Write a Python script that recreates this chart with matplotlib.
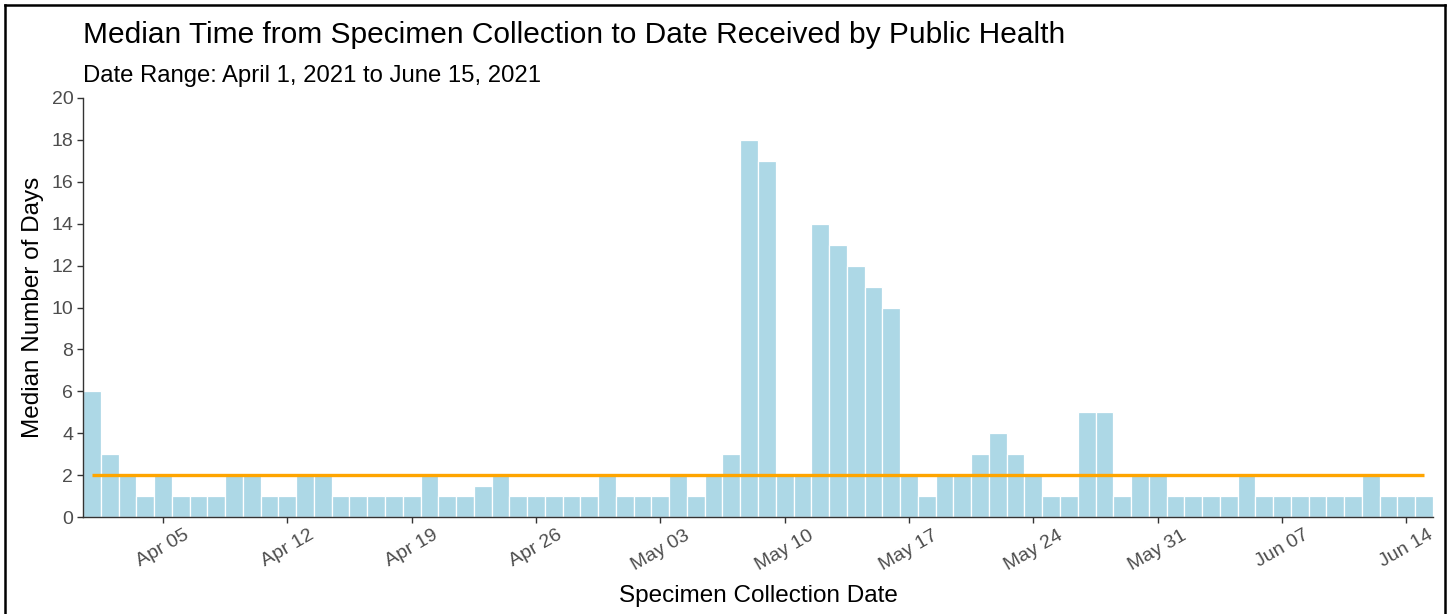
import matplotlib
matplotlib.use("Agg")
import matplotlib.pyplot as plt
import matplotlib.dates as mdates
import matplotlib.transforms as mtransforms
from matplotlib.lines import Line2D
import pandas as pd
import numpy as np

# ---------------- data ----------------
start_date = "2021-04-01"
end_date = "2021-06-15"
april_days = [6, 3, 2, 1, 2, 1, 1, 1, 2, 2, 1, 1, 2, 2, 1, 1, 1, 1, 1, 2,
              1, 1, 1.5, 2, 1, 1, 1, 1, 1, 2]
may_days = [1, 1, 1, 2, 1, 2, 3, 18, 17, 2, 2, 14, 13, 12, 11, 10, 2, 1, 2, 2,
            3, 4, 3, 2, 1, 1, 5, 5, 1, 2, 2]
june_days = [1, 1, 1, 1, 2, 1, 1, 1, 1, 1, 1, 2, 1, 1, 1]
reference_median = 2
y_ticks = [0, 2, 4, 6, 8, 10, 12, 14, 16, 18, 20]
title = "Median Time from Specimen Collection to Date Received by Public Health"
subtitle = "Date Range: April 1, 2021 to June 15, 2021"
x_label = "Specimen Collection Date"
y_label = "Median Number of Days"
first_tick = "2021-04-05"
last_tick = "2021-06-14"

dates = pd.date_range(start_date, end_date, freq="D")
values = april_days + may_days + june_days

# ---------------- figure ----------------
W, H, DPI = 1448, 614, 100
fig = plt.figure(figsize=(W / DPI, H / DPI), dpi=DPI)
plt.rcParams["font.family"] = ["Liberation Sans", "DejaVu Sans"]

def px(x0, y0, x1, y1):
    return [x0 / W, 1 - y1 / H, (x1 - x0) / W, (y1 - y0) / H]

ax = fig.add_axes(px(83, 98, 1433, 517))

xnum = mdates.date2num(dates)
ax.bar(xnum, values, width=1.0, color="#ADD8E6", edgecolor="white",
       linewidth=0.9, zorder=2)
ax.hlines(reference_median, xnum[0], xnum[-1], color="#FFA500", lw=2.4, zorder=3)

ax.set_xlim(xnum[0] - 0.5, xnum[-1] + 0.5)
ax.set_ylim(0, 20)
ax.set_yticks(y_ticks)

ticks = pd.date_range(first_tick, last_tick, freq="7D")
ax.set_xticks(mdates.date2num(ticks))
ax.set_xticklabels([t.strftime("%b %d") for t in ticks], rotation=30,
                   ha="center", va="top")
offset = mtransforms.ScaledTranslation(-5 / DPI, 0, fig.dpi_scale_trans)
for lab in ax.get_xticklabels():
    lab.set_transform(lab.get_transform() + offset)

for s in ["top", "right"]:
    ax.spines[s].set_visible(False)
for s in ["left", "bottom"]:
    ax.spines[s].set_color("#333333")
    ax.spines[s].set_linewidth(1.0)

ax.tick_params(axis="both", colors="#333333", length=4, width=1.0,
               labelcolor="#4D4D4D", labelsize=14)
ax.tick_params(axis="x", pad=3)
ax.tick_params(axis="y", pad=3)

ax.set_xlabel(x_label, fontsize=17.5, color="black", labelpad=8)
ax.set_ylabel(y_label, fontsize=17.5, color="black", labelpad=5)

fig.text(83 / W, 1 - 43 / H, title, fontsize=21.5, color="black", va="baseline", ha="left")
fig.text(83 / W, 1 - 82 / H, subtitle, fontsize=17.2, color="black", va="baseline", ha="left")

# outer frame (left, top, right)
lw = 1.8
fig.add_artist(Line2D([4.8 / W, 4.8 / W], [0, 1 - 5.3 / H], color="black", lw=lw,
                      transform=fig.transFigure))
fig.add_artist(Line2D([4.8 / W, 1444.8 / W], [1 - 5.3 / H, 1 - 5.3 / H], color="black", lw=lw,
                      transform=fig.transFigure))
fig.add_artist(Line2D([1444.8 / W, 1444.8 / W], [0, 1 - 5.3 / H], color="black", lw=lw,
                      transform=fig.transFigure))

fig.savefig("out.png", dpi=DPI)
